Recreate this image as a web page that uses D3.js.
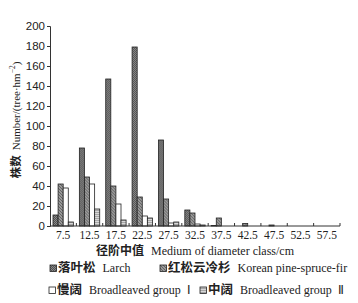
<!DOCTYPE html>
<html>
<head>
<meta charset="utf-8">
<script src="https://cdn.jsdelivr.net/npm/d3@7"></script>
<style>
  body { margin: 0; background: #fff; }
  .cn { font-family: "Noto Sans CJK SC", sans-serif; font-weight: bold; }
</style>
</head>
<body>
<div id="chart"></div>
<script>
// diameter classes (cm)
const classes = ["7.5", "12.5", "17.5", "22.5", "27.5", "32.5", "37.5", "42.5", "47.5", "52.5", "57.5"];
const seriesKeys = ["larch", "korean", "bg1", "bg2"];

// Number/(tree·hm^-2)
const larch  = [11, 78, 147, 179, 86, 16, 0.5, 0, 0, 0, 0];
const korean = [42, 49, 40, 29, 27, 13, 8, 2.5, 1, 0, 0];
const bg1    = [38, 42, 22, 10, 3, 2, 0, 0, 0, 0, 0];
const bg2    = [4, 17, 6, 8, 4, 1, 0, 0, 0, 0, 0];

const yTicks = [0, 20, 40, 60, 80, 100, 120, 140, 160, 180, 200];

const values = { larch, korean, bg1, bg2 };
const data = classes.map((c, i) => ({ cls: c, vals: seriesKeys.map(k => ({ key: k, v: values[k][i] })) }));

const width = 358, height = 303;
const svg = d3.select("#chart")
    .append("svg")
    .attr("width", width)
    .attr("height", height)
    .attr("font-family", "'Liberation Serif', 'Times New Roman', serif")
    .attr("font-size", 11.5);

// hatch patterns
const defs = svg.append("defs");
const p1 = defs.append("pattern").attr("id", "pLarch").attr("patternUnits", "userSpaceOnUse")
    .attr("width", 2).attr("height", 2);
p1.append("rect").attr("width", 2).attr("height", 2).attr("fill", "#8a8a8a");
p1.append("path").attr("d", "M0,2L2,0").attr("stroke", "#444").attr("stroke-width", 0.8);

const p2 = defs.append("pattern").attr("id", "pKorean").attr("patternUnits", "userSpaceOnUse")
    .attr("width", 3).attr("height", 3);
p2.append("rect").attr("width", 3).attr("height", 3).attr("fill", "#9a9a9a");
p2.append("path").attr("d", "M0,0L3,3").attr("stroke", "#555").attr("stroke-width", 0.8);

const p4 = defs.append("pattern").attr("id", "pBg2").attr("patternUnits", "userSpaceOnUse")
    .attr("width", 3).attr("height", 2);
p4.append("rect").attr("width", 3).attr("height", 2).attr("fill", "#d8d8d8");
p4.append("path").attr("d", "M0,0.5H3").attr("stroke", "#999").attr("stroke-width", 0.8);

const fills = { larch: "url(#pLarch)", korean: "url(#pKorean)", bg1: "#fff", bg2: "url(#pBg2)" };

const x0 = d3.scaleBand().domain(classes).range([50, 340]).padding(0);
const x1 = d3.scaleBand().domain(seriesKeys).range([3, x0.bandwidth() - 3]).padding(0);
const y = d3.scaleLinear().domain([0, 200]).range([226, 26]);

// bars
svg.append("g")
    .selectAll("g")
    .data(data)
    .enter().append("g")
    .attr("transform", d => `translate(${x0(d.cls)},0)`)
    .selectAll("rect")
    .data(d => d.vals.filter(e => e.v > 0))
    .enter().append("rect")
    .attr("x", d => x1(d.key))
    .attr("width", x1.bandwidth())
    .attr("y", d => y(d.v))
    .attr("height", d => y(0) - y(d.v))
    .attr("fill", d => fills[d.key])
    .attr("stroke", "#222")
    .attr("stroke-width", 0.8);

// y axis
const yAxis = svg.append("g")
    .attr("transform", "translate(50,0)")
    .call(d3.axisLeft(y).tickValues(yTicks).tickSize(3).tickPadding(2));
yAxis.select(".domain").attr("stroke", "#333");
yAxis.selectAll("line").attr("stroke", "#333");
yAxis.selectAll("text").attr("fill", "#222").attr("font-size", 11.5);

// x axis: ticks at class boundaries pointing inward
const xg = svg.append("g").attr("transform", "translate(0,226)");
xg.append("line").attr("x1", 50).attr("x2", 340).attr("stroke", "#333");
xg.selectAll(".tk")
    .data(classes)
    .enter().append("line")
    .attr("x1", d => x0(d) + x0.bandwidth())
    .attr("x2", d => x0(d) + x0.bandwidth())
    .attr("y1", 0).attr("y2", -3)
    .attr("stroke", "#333");
xg.selectAll(".lbl")
    .data(classes)
    .enter().append("text")
    .attr("x", d => x0(d) + x0.bandwidth() / 2)
    .attr("y", 13)
    .attr("text-anchor", "middle")
    .attr("fill", "#222")
    .text(d => d);

// axis titles
const xt = svg.append("text")
    .attr("x", 195).attr("y", 255)
    .attr("text-anchor", "middle")
    .attr("font-size", 12)
    .attr("fill", "#222");
xt.append("tspan").attr("class", "cn").attr("font-size", 12).text("径阶中值");
xt.append("tspan").attr("dx", 7).text("Medium of diameter class/cm");

const yt = svg.append("text")
    .attr("transform", "translate(20,120)rotate(-90)")
    .attr("text-anchor", "middle")
    .attr("font-size", 11)
    .attr("fill", "#222");
yt.append("tspan").attr("class", "cn").attr("font-size", 11.5).text("株数");
yt.append("tspan").attr("dx", 5).text("Number/(tree·hm");
yt.append("tspan").attr("dy", -5).attr("font-size", 7.5).text("−2");
yt.append("tspan").attr("dy", 5).text(")");

// legend
const legendItems = [
    { key: "larch", cn: "落叶松", en: "Larch", x: 50, y: 268 },
    { key: "korean", cn: "红松云冷杉", en: "Korean pine-spruce-fir", x: 160, y: 268 },
    { key: "bg1", cn: "慢阔", en: "Broadleaved group  Ⅰ", x: 49, y: 290 },
    { key: "bg2", cn: "中阔", en: "Broadleaved group  Ⅱ", x: 200, y: 290 }
];
const legend = svg.append("g")
    .selectAll("g")
    .data(legendItems)
    .enter().append("g")
    .attr("transform", d => `translate(${d.x},${d.y})`);
legend.append("rect")
    .attr("x", 0).attr("y", -3)
    .attr("width", 6.5).attr("height", 6.5)
    .attr("fill", d => fills[d.key])
    .attr("stroke", "#222")
    .attr("stroke-width", 0.8);
const lt = legend.append("text")
    .attr("x", 8).attr("dy", "0.35em")
    .attr("fill", "#222")
    .attr("font-size", 12)
    .attr("xml:space", "preserve")
    .style("white-space", "pre");
lt.append("tspan").attr("class", "cn").attr("font-size", 12.5).text(d => d.cn);
lt.append("tspan").attr("dx", 7).text(d => d.en);
</script>
</body>
</html>
